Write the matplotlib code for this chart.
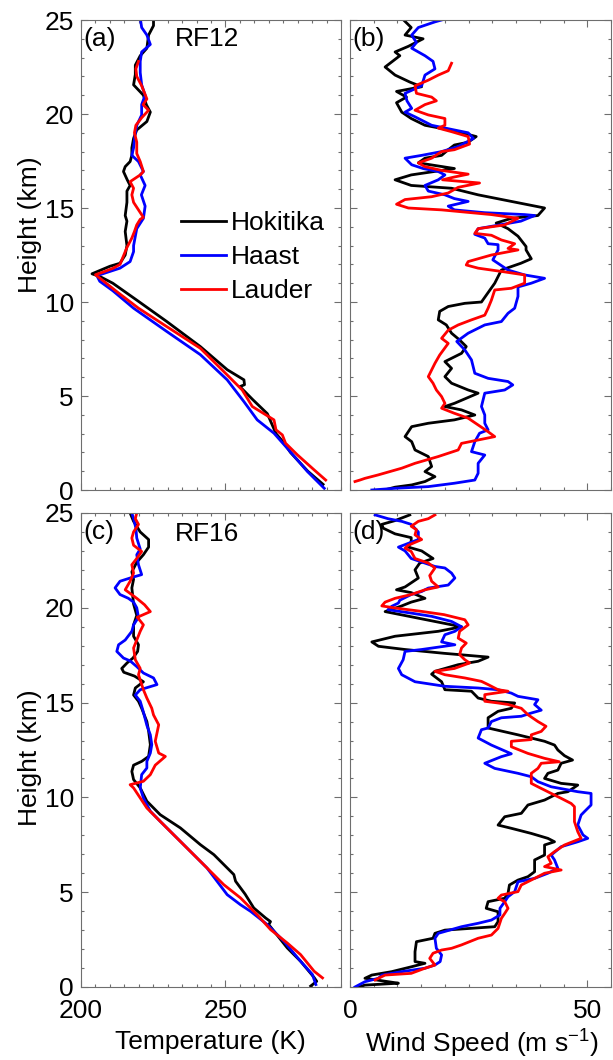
import matplotlib
matplotlib.use("Agg")
import matplotlib.pyplot as plt
from matplotlib.ticker import MultipleLocator

plt.rcParams['font.family'] = ['Liberation Sans', 'DejaVu Sans']
plt.rcParams['mathtext.fontset'] = 'custom'
plt.rcParams['mathtext.rm'] = 'Liberation Sans'
plt.rcParams['mathtext.it'] = 'Liberation Sans:italic'
plt.rcParams['mathtext.default'] = 'regular'

# ---------------- data ----------------
stations = ["Hokitika", "Haast", "Lauder"]
colors = ["black", "blue", "red"]

# Panel (a) RF12 temperature (K) vs height (km)
a_hok_h = [0.3, 1.0, 2.0, 2.5, 3.0, 4.06, 4.8, 5.5, 5.6, 5.86, 6.4, 7.63, 8.96, 10.1, 11.0, 11.35, 11.5, 11.9, 12.06, 12.5, 13.0,
           13.75, 14.3, 14.6, 15.3, 15.9, 16.2, 16.5, 16.94, 17.2, 17.47, 17.8, 18.2, 18.7, 19.15, 19.6, 20.1, 20.5, 21.0,
           21.55, 22.1, 22.6, 23.1, 23.5, 24.2, 24.7, 25.1]
a_hok_t = [283.8, 278.5, 272.5, 270.3, 267.5, 264.5, 259.5, 255.0, 256.6, 256.4, 250.6, 241.3, 229.7, 219.3, 211.0, 206.6, 203.8,
           210.0, 213.5, 215.3, 215.9, 215.3, 215.9, 215.3, 215.9, 215.9, 217.0, 216.0, 214.7, 215.3, 217.0, 217.6, 217.6,
           218.2, 219.3, 222.8, 224.0, 222.6, 221.6, 218.2, 218.8, 218.8, 220.5, 222.8, 223.4, 225.1, 225.1]
a_haa_h = [0.09, 0.98, 2.22, 3.02, 3.73, 4.7, 5.86, 7.2, 8.43, 9.67, 10.6, 11.1, 11.4, 11.8, 12.15, 12.68, 13.0, 13.9, 14.45,
           15.1, 15.7, 16.2, 16.76, 16.94, 17.47, 17.8, 18.2, 18.9, 19.4, 19.95, 20.5, 21.0, 21.55, 22.2, 22.8, 23.3, 23.7,
           24.2, 24.6, 25.1]
a_haa_t = [284.2, 278.4, 271.4, 266.8, 261.0, 256.4, 250.6, 241.3, 229.7, 218.2, 211.0, 206.5, 205.5, 213.5, 217.0, 218.2,
           218.2, 219.3, 221.6, 222.2, 220.9, 222.2, 220.5, 221.6, 219.9, 217.6, 218.2, 218.7, 219.3, 221.0, 221.0, 222.2,
           221.0, 220.5, 220.5, 221.0, 224.0, 222.8, 221.0, 220.5]
a_lau_h = [0.53, 1.07, 1.87, 2.49, 2.93, 3.2, 3.73, 4.44, 5.32, 6.12, 7.54, 8.69, 9.67, 10.55, 11.26, 11.45, 11.6, 11.8, 12.0,
           12.9, 13.4, 13.75, 14.1, 14.4, 14.5, 14.9, 15.3, 15.7, 16.05, 16.4, 16.76, 16.94, 17.47, 17.9, 18.5, 19.0, 19.4,
           19.8, 20.2, 20.5, 20.8, 21.5, 22.0, 22.4, 22.8]
a_lau_t = [284.7, 280.7, 274.9, 270.8, 269.7, 267.5, 266.8, 259.3, 255.8, 250.6, 241.3, 229.7, 219.9, 212.4, 206.6, 205.0,
           207.8, 211.2, 213.5, 215.9, 217.6, 218.5, 219.3, 220.5, 221.6, 219.9, 218.2, 217.6, 218.2, 217.0, 220.5, 221.6,
           220.5, 219.3, 219.3, 218.5, 219.0, 221.0, 223.4, 221.5, 222.8, 221.0, 219.3, 219.0, 219.9]

# Panel (b) RF12 wind speed (m/s) vs height (km)
b_hok_h = [25.1, 24.6, 24.2, 24.0, 23.6, 23.3, 23.1, 22.5, 22.07, 21.7, 21.45, 21.2, 20.9, 20.6, 20.1, 19.76, 19.4, 19.1,
           18.8, 18.5, 18.35, 18.1, 17.8, 17.65, 17.4, 17.1, 16.76, 16.5, 16.2, 16.05, 15.7, 15.6, 15.0, 14.6, 14.45, 14.2,
           13.9, 13.5, 12.95, 12.77, 12.3, 12.06, 11.7, 11.0, 10.5, 10.0, 9.93, 9.76, 9.5, 9.05, 8.78, 8.34, 7.98, 7.63,
           7.27, 6.83, 6.47, 6.03, 5.68, 5.32, 5.15, 4.61, 4.44, 4.26, 3.99, 3.73, 3.55, 3.37, 2.84, 2.57, 2.13, 1.78,
           1.25, 0.98, 0.71, 0.45, 0.27, 0.15, 0.05]
b_hok_w = [10.9, 12.9, 11.6, 15.4, 12.3, 9.5, 10.5, 7.4, 9.5, 12.6, 15.1, 9.8, 11.9, 9.8, 10.9, 12.9, 15.8, 22.0, 26.6, 24.9,
           22.0, 20.7, 19.3, 15.8, 14.4, 22.0, 12.9, 9.5, 12.9, 21.4, 27.0, 29.0, 41.0, 39.6, 34.0, 30.8, 33.3, 35.4, 37.1,
           37.1, 38.2, 36.0, 31.9, 30.5, 29.1, 27.7, 24.2, 20.7, 18.9, 18.6, 20.3, 21.4, 23.1, 24.5, 23.5, 20.0, 21.4,
           20.0, 21.4, 24.9, 27.0, 22.0, 20.0, 23.5, 26.3, 22.0, 16.5, 13.0, 11.6, 13.0, 13.7, 16.5, 17.2, 15.8, 17.9,
           15.8, 13.0, 9.5, 8.0]
b_haa_h = [25.1, 24.9, 24.6, 24.2, 23.8, 23.5, 23.1, 22.8, 22.4, 22.07, 21.5, 21.1, 20.7, 20.3, 20.1, 19.85, 19.4, 19.15,
           19.0, 18.7, 18.27, 18.0, 17.8, 17.65, 17.3, 17.1, 16.94, 16.76, 16.5, 16.2, 15.9, 15.7, 15.5, 15.35, 15.1, 14.9,
           14.75, 14.65, 14.6, 14.3, 13.9, 13.6, 13.4, 13.1, 13.05, 12.77, 12.24, 11.7, 11.44, 11.26, 11.0, 10.8, 10.3,
           9.67, 9.4, 8.96, 8.78, 8.34, 7.9, 7.45, 6.92, 6.21, 5.94, 5.77, 5.59, 5.32, 5.15, 4.44, 3.99, 3.55, 3.2, 3.02,
           2.57, 2.04, 1.86, 1.42, 0.89, 0.53, 0.36, 0.18, 0.09, 0.0]
b_haa_w = [20.7, 17.9, 14.4, 13.0, 14.0, 13.0, 15.8, 17.5, 17.9, 15.8, 15.1, 11.6, 12.0, 13.0, 11.6, 13.7, 17.2, 22.0, 24.9,
           26.0, 22.8, 19.3, 15.1, 11.6, 13.0, 15.4, 18.6, 20.0, 18.6, 15.8, 16.5, 20.0, 22.0, 24.9, 20.7, 22.0, 28.4,
           36.8, 38.9, 36.0, 27.0, 26.3, 28.4, 29.1, 31.2, 31.2, 30.1, 33.3, 36.8, 41.0, 38.2, 35.4, 35.4, 34.7, 33.3,
           31.9, 28.4, 24.9, 22.5, 24.2, 25.6, 26.3, 29.1, 33.3, 34.3, 32.6, 28.4, 27.7, 28.4, 28.4, 29.1, 27.3, 26.3,
           25.6, 28.4, 27.0, 27.0, 26.3, 22.0, 16.5, 9.5, 4.6]
b_lau_h = [22.7, 22.3, 22.07, 21.8, 21.5, 21.1, 20.9, 20.7, 20.5, 20.2, 19.95, 19.76, 19.4, 19.25, 19.06, 18.8, 18.4, 18.1,
           18.0, 17.65, 17.4, 17.2, 17.0, 16.8, 16.65, 16.5, 16.33, 16.1, 15.8, 15.6, 15.45, 15.2, 15.0, 14.9, 14.65, 14.45,
           14.1, 13.9, 13.65, 13.55, 13.3, 13.1, 12.85, 12.77, 12.5, 12.15, 11.97, 11.8, 11.6, 11.44, 11.0, 10.73, 10.64,
           10.1, 9.67, 9.3, 9.05, 8.78, 8.5, 8.07, 7.8, 7.18, 6.74, 6.03, 5.68, 5.32, 4.97, 4.61, 4.35, 4.08, 3.82, 3.46,
           3.1, 2.84, 2.66, 2.48, 2.13, 1.78, 1.42, 1.16, 0.8, 0.62, 0.53, 0.45]
b_lau_w = [21.4, 20.7, 18.6, 16.5, 13.7, 14.0, 17.2, 18.2, 15.8, 13.7, 16.5, 20.0, 20.0, 18.6, 21.4, 24.9, 25.2, 22.0, 19.3,
           17.2, 14.4, 15.8, 19.3, 24.9, 22.0, 19.5, 27.3, 22.8, 20.7, 17.2, 11.6, 9.8, 12.3, 19.3, 29.8, 35.4, 32.6, 27.0,
           26.3, 29.8, 31.9, 34.7, 33.3, 35.4, 29.8, 24.9, 24.5, 27.0, 32.6, 36.8, 36.8, 34.0, 30.5, 29.8, 29.1, 28.4,
           25.6, 22.8, 20.7, 19.3, 20.7, 18.9, 17.9, 16.5, 17.5, 18.2, 19.3, 20.0, 19.3, 22.0, 24.9, 27.0, 29.1, 30.5,
           27.0, 23.5, 22.8, 18.6, 13.7, 10.9, 5.9, 3.15, 2.1, 1.05]

# Panel (c) RF16 temperature
c_hok_h = [0.05, 0.3, 0.5, 1.36, 2.06, 3.29, 3.45, 3.64, 4.17, 4.9, 5.58, 5.93, 6.98, 7.51, 8.39, 9.09, 9.8, 10.5, 10.94,
           11.37, 11.7, 11.9, 12.16, 12.78, 13.5, 14.0, 14.7, 15.07, 15.4, 15.77, 16.1, 16.4, 16.6, 16.8, 17.1, 17.35,
           17.7, 18.05, 18.5, 19.1, 19.6, 20.2, 21.05, 21.5, 21.9, 22.4, 22.8, 23.2, 23.6, 24.0, 24.56, 25.0]
c_hok_t = [279.5, 281.6, 280.7, 276.0, 271.4, 265.0, 265.6, 263.9, 259.8, 256.8, 253.5, 252.9, 246.0, 241.3, 234.4, 227.4,
           222.8, 220.5, 218.2, 217.6, 218.2, 221.0, 223.4, 224.0, 223.4, 222.8, 221.0, 219.9, 218.2, 218.8, 221.6, 218.5,
           214.8, 214.1, 216.0, 218.0, 219.6, 219.9, 218.2, 218.2, 219.3, 218.2, 217.6, 218.2, 217.6, 219.3, 221.6, 223.4,
           223.4, 220.5, 218.2, 217.0]
c_haa_h = [0.13, 0.66, 1.36, 2.4, 3.29, 3.99, 4.34, 4.87, 6.28, 7.68, 8.74, 9.27, 9.97, 10.5, 11.2, 11.55, 11.9, 12.34,
           12.78, 13.3, 13.8, 14.5, 15.07, 15.4, 15.68, 15.95, 16.3, 16.56, 16.9, 17.2, 17.35, 17.7, 18.05, 18.3, 18.76,
           19.1, 19.5, 20.0, 20.3, 20.5, 20.7, 21.05, 21.4, 21.6, 21.75, 22.27, 22.8, 23.1, 23.68, 24.2, 24.7, 25.0]
c_haa_t = [281.3, 280.1, 276.0, 270.3, 264.5, 258.7, 255.2, 250.6, 243.6, 234.4, 227.4, 224.0, 221.6, 220.5, 221.0, 222.8,
           222.8, 224.0, 224.5, 224.0, 222.8, 221.6, 220.5, 218.8, 220.5, 226.3, 225.1, 221.6, 219.3, 217.0, 214.7, 212.4,
           213.0, 215.3, 217.6, 218.2, 219.9, 219.3, 218.2, 216.4, 213.5, 211.8, 213.5, 217.6, 221.0, 219.9, 219.3, 220.5,
           219.3, 219.0, 218.2, 217.6]
c_lau_h = [0.48, 0.83, 1.71, 2.32, 3.03, 3.81, 4.7, 5.4, 6.45, 7.51, 8.74, 9.44, 10.5, 10.67, 10.85, 11.2, 11.7, 12.16,
           12.34, 12.96, 13.83, 14.35, 14.7, 15.24, 15.68, 16.47, 16.8, 17.26, 17.88, 18.3, 18.76, 19.1, 19.5, 19.6, 19.8,
           20.16, 20.5, 20.95, 21.4, 21.83, 22.27, 22.6, 22.97, 23.3, 23.68, 24.0, 24.4, 24.7, 25.0]
c_lau_t = [283.6, 280.7, 276.0, 271.4, 265.6, 261.0, 255.2, 249.4, 242.5, 235.5, 227.4, 222.8, 218.2, 217.0, 221.6, 224.0,
           225.7, 229.2, 226.9, 225.7, 226.9, 225.1, 224.5, 222.8, 221.6, 219.9, 220.5, 218.8, 218.2, 219.3, 220.5, 221.6,
           219.5, 221.0, 224.0, 222.0, 219.3, 215.3, 217.0, 218.2, 217.6, 219.3, 221.0, 218.2, 217.6, 218.2, 219.9, 218.8,
           219.3]

# Panel (d) RF16 wind speed
d_hok_h = [24.9, 24.6, 24.4, 24.2, 23.9, 23.7, 23.5, 23.2, 23.0, 22.6, 22.36, 22.0, 21.57, 21.1, 20.95, 20.8, 20.5, 20.3,
           20.1, 19.8, 19.0, 18.76, 18.5, 18.2, 17.97, 17.8, 17.6, 17.4, 17.18, 17.0, 16.65, 16.5, 16.1, 15.68, 15.6,
           15.24, 15.07, 14.98, 14.7, 14.54, 14.2, 13.66, 13.3, 12.96, 12.76, 12.5, 12.2, 11.97, 11.8, 11.44, 11.27, 11.0,
           10.74, 10.65, 10.3, 10.21, 9.86, 9.6, 9.16, 8.98, 8.54, 8.37, 8.1, 7.84, 7.66, 7.49, 6.96, 6.7, 6.08, 5.82,
           5.64, 5.38, 4.94, 4.68, 4.5, 4.15, 3.97, 3.45, 3.18, 3.0, 2.83, 2.57, 2.39, 1.86, 1.34, 1.25, 1.07, 0.81,
           0.63, 0.46, 0.28, 0.2, 0.1, 0.0]
d_hok_w = [12.6, 9.5, 6.7, 7.0, 9.5, 12.9, 12.9, 12.3, 15.1, 17.5, 14.7, 13.7, 14.4, 11.6, 9.8, 12.9, 15.8, 12.9, 10.9,
           7.4, 23.5, 18.6, 9.5, 4.6, 6.0, 11.6, 19.8, 29.1, 27.0, 22.8, 17.9, 17.2, 19.3, 20.0, 25.6, 27.0, 29.8, 34.7,
           34.0, 31.2, 29.1, 29.1, 35.4, 41.0, 43.1, 43.8, 45.2, 46.9, 44.5, 43.8, 41.7, 41.0, 44.5, 48.0, 45.9, 43.8,
           41.0, 37.5, 36.1, 32.6, 31.2, 34.0, 38.2, 41.7, 43.1, 41.0, 41.0, 38.9, 38.9, 37.5, 35.4, 33.6, 33.3, 32.6,
           29.1, 28.7, 31.2, 31.2, 30.5, 20.0, 17.9, 17.5, 14.0, 13.7, 13.7, 15.8, 13.0, 8.8, 4.6, 3.15, 8.05, 10.2,
           3.15, 1.75]
d_haa_h = [24.9, 24.7, 24.56, 24.4, 24.0, 23.6, 23.4, 23.2, 23.0, 22.6, 22.18, 22.1, 21.83, 21.57, 21.2, 21.04, 20.86,
           20.7, 20.4, 20.25, 20.08, 19.9, 19.72, 19.55, 19.28, 19.0, 18.76, 18.58, 18.2, 18.05, 17.8, 17.7, 17.26, 16.8,
           16.47, 16.1, 15.86, 15.77, 15.68, 15.5, 15.33, 15.15, 14.9, 14.6, 14.45, 14.28, 14.2, 14.0, 13.66, 13.57,
           13.13, 12.76, 12.3, 12.15, 11.8, 11.53, 11.27, 11.09, 10.83, 10.56, 10.3, 10.21, 9.6, 9.25, 9.07, 8.54, 8.02,
           7.84, 7.66, 7.4, 6.96, 6.7, 6.26, 6.0, 5.73, 5.55, 5.03, 4.76, 4.5, 4.15, 3.8, 3.53, 3.36, 3.18, 2.83, 2.57,
           2.04, 1.69, 1.34, 1.16, 0.99, 0.81, 0.63, 0.46, 0.28, 0.0]
d_haa_w = [5.3, 8.0, 10.9, 12.9, 14.4, 14.4, 12.3, 10.2, 11.6, 12.9, 17.9, 20.0, 21.4, 22.1, 20.7, 16.5, 15.1, 12.9, 10.5,
           10.2, 8.8, 8.0, 12.9, 17.2, 21.4, 23.5, 22.1, 20.0, 19.3, 22.1, 15.1, 11.6, 11.2, 10.2, 10.9, 13.7, 20.0, 27.0,
           31.2, 34.0, 35.4, 39.6, 38.9, 40.3, 38.2, 36.1, 31.9, 29.8, 29.1, 27.7, 27.0, 29.8, 34.0, 31.9, 28.4, 30.5,
           35.4, 38.2, 39.6, 42.4, 48.0, 50.8, 50.8, 49.4, 48.7, 48.0, 49.1, 50.1, 48.0, 44.5, 42.4, 43.1, 43.8, 41.7,
           38.9, 35.4, 34.7, 33.3, 32.6, 31.6, 31.6, 29.8, 27.0, 23.5, 18.6, 17.9, 18.2, 19.3, 19.0, 17.9, 15.8, 10.9,
           6.7, 6.0, 3.15, 1.05]
d_lau_h = [24.9, 24.7, 24.56, 24.3, 24.12, 23.85, 23.6, 23.3, 23.15, 22.97, 22.6, 22.36, 22.1, 21.7, 21.4, 21.1, 20.95,
           20.7, 20.5, 20.3, 20.1, 19.99, 19.81, 19.64, 19.37, 19.1, 18.76, 18.4, 18.14, 17.88, 17.53, 17.26, 17.09, 16.8,
           16.65, 16.47, 16.3, 16.12, 15.95, 15.68, 15.6, 15.42, 15.07, 14.98, 14.9, 14.7, 14.36, 14.0, 13.75, 13.48,
           13.3, 13.05, 12.96, 12.67, 12.32, 12.06, 11.88, 11.8, 11.53, 11.27, 10.74, 10.56, 10.21, 9.95, 9.68, 9.51,
           9.25, 8.72, 8.19, 7.84, 7.49, 7.14, 6.87, 6.52, 6.35, 6.17, 6.0, 5.73, 5.38, 5.03, 4.85, 4.68, 4.5, 4.15,
           3.88, 3.62, 3.09, 2.74, 2.57, 2.22, 2.04, 1.95, 1.78, 1.51, 1.16, 0.99, 0.72, 0.63, 0.46, 0.37]
d_lau_w = [17.9, 16.5, 14.4, 12.9, 14.0, 13.7, 15.1, 12.3, 11.6, 12.9, 13.7, 16.5, 17.9, 16.8, 17.2, 18.6, 15.8, 12.9, 9.5,
           7.4, 6.7, 9.5, 15.1, 19.8, 24.2, 24.9, 23.1, 22.8, 24.5, 23.5, 23.1, 24.2, 25.2, 22.0, 17.9, 20.0, 24.2, 27.7,
           29.1, 31.2, 33.3, 28.4, 28.4, 31.2, 33.3, 36.1, 37.5, 39.6, 41.3, 40.3, 38.2, 38.2, 34.0, 34.0, 37.5, 41.0,
           44.1, 40.3, 39.6, 38.2, 38.2, 39.6, 42.4, 44.5, 46.6, 47.3, 47.3, 47.3, 48.0, 48.7, 45.2, 43.1, 41.7, 42.4,
           41.0, 44.5, 41.0, 38.9, 36.1, 35.4, 31.9, 31.2, 32.6, 33.3, 32.6, 31.9, 31.2, 29.8, 27.0, 23.5, 21.4, 19.3,
           17.5, 16.8, 17.9, 15.8, 12.9, 7.4, 6.0, 5.3]

panel_labels = ["(a)", "(b)", "(c)", "(d)"]
flight_labels = ["RF12", "RF16"]
temp_ticks = [200, 250]
wind_ticks = [0, 50]
height_ticks = [0, 5, 10, 15, 20, 25]

# ---------------- figure ----------------
W, H = 613, 1060
fig = plt.figure(figsize=(W / 100, H / 100), dpi=100)

def px_axes(x0, y0, x1, y1):
    return fig.add_axes([x0 / W, 1 - y1 / H, (x1 - x0) / W, (y1 - y0) / H])

ax_a = px_axes(81, 20, 341, 490)
ax_b = px_axes(350, 20, 611, 490)
ax_c = px_axes(81, 513, 341, 987)
ax_d = px_axes(350, 513, 611, 987)

FS = 19
spine_col = "#6e6e6e"

def style(ax, xlim, xmajor, xminor, show_x, show_y):
    ax.set_xlim(*xlim)
    ax.set_ylim(0, 25)
    ax.set_xticks(xmajor)
    ax.xaxis.set_minor_locator(MultipleLocator(xminor))
    ax.set_yticks(height_ticks)
    ax.yaxis.set_minor_locator(MultipleLocator(1))
    ax.tick_params(which="both", direction="in", top=True, right=True, colors=spine_col,
                   labelcolor="black", labelsize=FS, width=0.8)
    ax.tick_params(which="major", length=5)
    ax.tick_params(which="minor", length=2.5)
    ax.tick_params(axis="x", pad=9)
    ax.tick_params(axis="y", pad=5)
    if not show_x:
        ax.tick_params(axis="x", labelbottom=False)
    if not show_y:
        ax.tick_params(axis="y", labelleft=False)
    for s in ax.spines.values():
        s.set_color(spine_col)
        s.set_linewidth(0.8)

LW = 2.0
panels = [
    (ax_a, [(a_hok_t, a_hok_h), (a_haa_t, a_haa_h), (a_lau_t, a_lau_h)]),
    (ax_b, [(b_hok_w, b_hok_h), (b_haa_w, b_haa_h), (b_lau_w, b_lau_h)]),
    (ax_c, [(c_hok_t, c_hok_h), (c_haa_t, c_haa_h), (c_lau_t, c_lau_h)]),
    (ax_d, [(d_hok_w, d_hok_h), (d_haa_w, d_haa_h), (d_lau_w, d_lau_h)]),
]
for ax, series in panels:
    for (xv, hv), name, col in zip(series, stations, colors):
        ax.plot(xv, hv, color=col, lw=LW, label=name, solid_joinstyle="round")

style(ax_a, (200, 290), temp_ticks, 5, False, True)
style(ax_c, (200, 290), temp_ticks, 5, True, True)
style(ax_b, (0, 55), wind_ticks, 5, False, False)
style(ax_d, (0, 55), wind_ticks, 5, True, False)

for ax, lab in zip([ax_a, ax_b, ax_c, ax_d], panel_labels):
    ax.text(0.008, 0.96, lab, transform=ax.transAxes, fontsize=FS, ha="left", va="center")
ax_a.text(0.36, 0.96, flight_labels[0], transform=ax_a.transAxes, fontsize=FS, ha="left", va="center")
ax_c.text(0.36, 0.956, flight_labels[1], transform=ax_c.transAxes, fontsize=FS, ha="left", va="center")

leg = ax_a.legend(loc="center left", bbox_to_anchor=(0.385, 0.496), frameon=False, fontsize=FS,
                  borderpad=0, borderaxespad=0, handlelength=1.7, handletextpad=0.2, labelspacing=0.38)

fig.text(30 / W, 1 - 225 / H, "Height (km)", rotation=90, fontsize=FS, ha="center", va="center")
fig.text(30 / W, 1 - 758 / H, "Height (km)", rotation=90, fontsize=FS, ha="center", va="center")
fig.text(210 / W, 1 - 1042 / H, "Temperature (K)", fontsize=FS, ha="center", va="center")
fig.text(482 / W, 1 - 1044 / H, "Wind Speed (m s$^{-1}$)", fontsize=FS, ha="center", va="center")

fig.savefig("out.png", dpi=100)
